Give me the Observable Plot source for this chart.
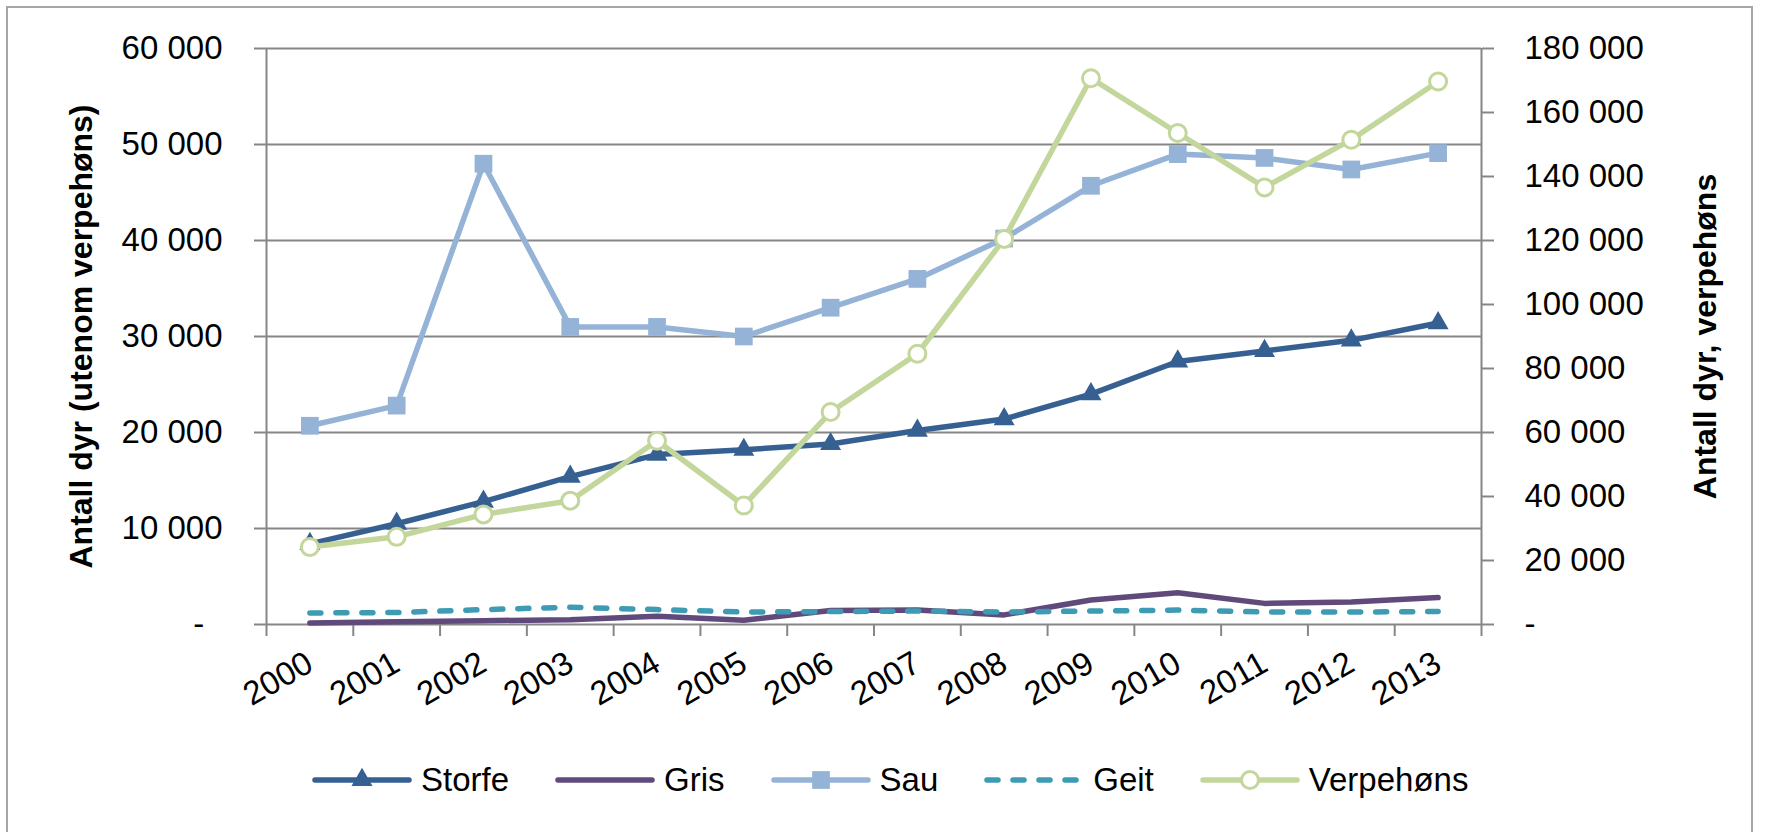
<!DOCTYPE html>
<html>
<head>
<meta charset="utf-8">
<script src="https://cdn.jsdelivr.net/npm/d3@7"></script>
<script src="https://cdn.jsdelivr.net/npm/@observablehq/plot@0.6"></script>
<style>
  html, body { margin: 0; padding: 0; background: #fff; }
  body { width: 1765px; height: 832px; position: relative; overflow: hidden; font-family: "Liberation Sans", Arial, sans-serif; }
  #frame { position: absolute; left: 6px; top: 6px; width: 1747px; height: 860px; border: 2px solid #a6a6a6; box-sizing: border-box; }
  #chart { position: absolute; left: 0; top: 0; }
  #legend { position: absolute; left: 312px; top: 761px; display: flex; align-items: center; font-size: 33px; line-height: 38px; color: #000; }
  #legend .item { display: flex; align-items: center; margin-right: 46px; }
  #legend .item svg { display: block; }
  #legend .item span { margin-left: 9px; }
</style>
</head>
<body>
<div id="frame"></div>
<div id="chart"></div>
<div id="legend"></div>
<script>
// ---- data ----
const years = [2000, 2001, 2002, 2003, 2004, 2005, 2006, 2007, 2008, 2009, 2010, 2011, 2012, 2013];
const storfe = [8400, 10500, 12800, 15400, 17700, 18200, 18800, 20200, 21400, 24000, 27400, 28500, 29600, 31400];
const gris = [150, 280, 400, 500, 850, 450, 1450, 1500, 1000, 2550, 3300, 2200, 2350, 2800];
const sau = [20700, 22800, 48000, 31000, 31000, 30000, 33000, 36000, 40200, 45700, 49000, 48600, 47400, 49100];
const geit = [1200, 1250, 1550, 1800, 1550, 1300, 1350, 1400, 1300, 1400, 1500, 1300, 1300, 1350];
const verpehons = [24200, 27400, 34400, 38700, 57400, 37200, 66400, 84600, 120500, 170700, 153600, 136600, 151500, 169700];

const leftTicks = [0, 10000, 20000, 30000, 40000, 50000, 60000];
const rightTicks = [0, 20000, 40000, 60000, 80000, 100000, 120000, 140000, 160000, 180000];
const seriesNames = ["Storfe", "Gris", "Sau", "Geit", "Verpehøns"];
const leftTitle = "Antall dyr (utenom verpehøns)";
const rightTitle = "Antall dyr, verpehøns";

// ---- styling ----
const colors = { Storfe: "#376092", Gris: "#604a7b", Sau: "#95b3d7", Geit: "#3d9bb3", "Verpehøns": "#c3d69b" };
const gray = "#868686";
const ratio = 180000 / 60000; // secondary axis scale factor

const data = years.map((y, i) => ({ year: y, storfe: storfe[i], gris: gris[i], sau: sau[i], geit: geit[i], verpehons: verpehons[i] }));
const xc = d => d.year + 0.5;
const boundaries = years.concat([years[years.length - 1] + 1]);

const num = v => d3.format(",")(v).replace(/,/g, " ");
const fmtLeft = v => v === 0 ? "-\u00a0\u00a0" : num(v);
const fmtRight = v => Math.round(v * ratio) === 0 ? "-" : num(Math.round(v * ratio));

const SW = 5.5;
const lineOpts = { strokeWidth: SW, strokeLinejoin: "round", strokeLinecap: "round" };

const chart = Plot.plot({
  width: 1765,
  height: 730,
  marginLeft: 266,
  marginRight: 284,
  marginTop: 48,
  marginBottom: 106,
  style: { fontFamily: "Liberation Sans, Arial, sans-serif", fontSize: "33px", color: "#000", background: "transparent", overflow: "visible" },
  x: { type: "linear", domain: [boundaries[0], boundaries[boundaries.length - 1]], axis: null },
  y: { domain: [0, 60000], axis: null },
  marks: [
    Plot.ruleY(leftTicks, { stroke: gray, strokeWidth: 2 }),
    Plot.ruleX([boundaries[0], boundaries[boundaries.length - 1]], { stroke: gray, strokeWidth: 2 }),
    Plot.axisY(leftTicks, { anchor: "left", tickSize: 12, tickPadding: 32, tickFormat: fmtLeft, stroke: gray, strokeWidth: 2, fontSize: 33 }),
    Plot.axisY(rightTicks.map(v => v / ratio), { anchor: "right", tickSize: 12, tickPadding: 31, tickFormat: fmtRight, stroke: gray, strokeWidth: 2, fontSize: 33 }),
    Plot.axisX(boundaries, { anchor: "bottom", tickSize: 12, tickFormat: () => "", stroke: gray, strokeWidth: 2 }),
    Plot.axisX(years.map(y => y + 0.5), { anchor: "bottom", tickSize: 0, tickPadding: 36, tickRotate: -30, tickFormat: d => String(Math.round(d - 0.5)), fontSize: 33 }),
    Plot.text([leftTitle], { text: d => d, frameAnchor: "left", textAnchor: "middle", lineAnchor: "middle", dx: -185, rotate: -90, fontWeight: "bold", fontSize: 32 }),
    Plot.text([rightTitle], { text: d => d, frameAnchor: "right", textAnchor: "middle", lineAnchor: "middle", dx: 224, rotate: -90, fontWeight: "bold", fontSize: 32 }),
    // Storfe
    Plot.line(data, { x: xc, y: "storfe", stroke: colors.Storfe, ...lineOpts }),
    Plot.dot(data, { x: xc, y: "storfe", symbol: "triangle", r: 7.8, fill: colors.Storfe }),
    // Gris
    Plot.line(data, { x: xc, y: "gris", stroke: colors.Gris, ...lineOpts }),
    // Sau
    Plot.line(data, { x: xc, y: "sau", stroke: colors.Sau, ...lineOpts }),
    Plot.dot(data, { x: xc, y: "sau", symbol: "square", r: 10, fill: colors.Sau }),
    // Geit
    Plot.line(data, { x: xc, y: "geit", stroke: colors.Geit, strokeWidth: SW, strokeDasharray: "11,15", strokeLinecap: "round", strokeLinejoin: "round" }),
    // Verpehøns (secondary axis)
    Plot.line(data, { x: xc, y: d => d.verpehons / ratio, stroke: colors["Verpehøns"], ...lineOpts }),
    Plot.dot(data, { x: xc, y: d => d.verpehons / ratio, r: 8.5, fill: "#fff", stroke: colors["Verpehøns"], strokeWidth: 3 })
  ]
});
document.getElementById("chart").appendChild(chart);

// ---- legend ----
const legend = d3.select("#legend");
seriesNames.forEach(name => {
  const item = legend.append("div").attr("class", "item");
  const svg = item.append("svg").attr("width", 100).attr("height", 30);
  const c = colors[name];
  const ln = svg.append("line").attr("x1", 3).attr("x2", 97).attr("y1", 15).attr("y2", 15)
    .attr("stroke", c).attr("stroke-width", SW).attr("stroke-linecap", "round");
  if (name === "Geit") ln.attr("stroke-dasharray", "11,15").attr("x2", 94);
  if (name === "Storfe") svg.append("path").attr("d", d3.symbol(d3.symbolTriangle, Math.PI * 7.8 * 7.8)()).attr("transform", "translate(50,15)").attr("fill", c);
  if (name === "Sau") svg.append("path").attr("d", d3.symbol(d3.symbolSquare, Math.PI * 10 * 10)()).attr("transform", "translate(50,15)").attr("fill", c);
  if (name === "Verpehøns") svg.append("circle").attr("cx", 50).attr("cy", 15).attr("r", 8.5).attr("fill", "#fff").attr("stroke", c).attr("stroke-width", 3);
  item.append("span").text(name);
});
</script>
</body>
</html>
